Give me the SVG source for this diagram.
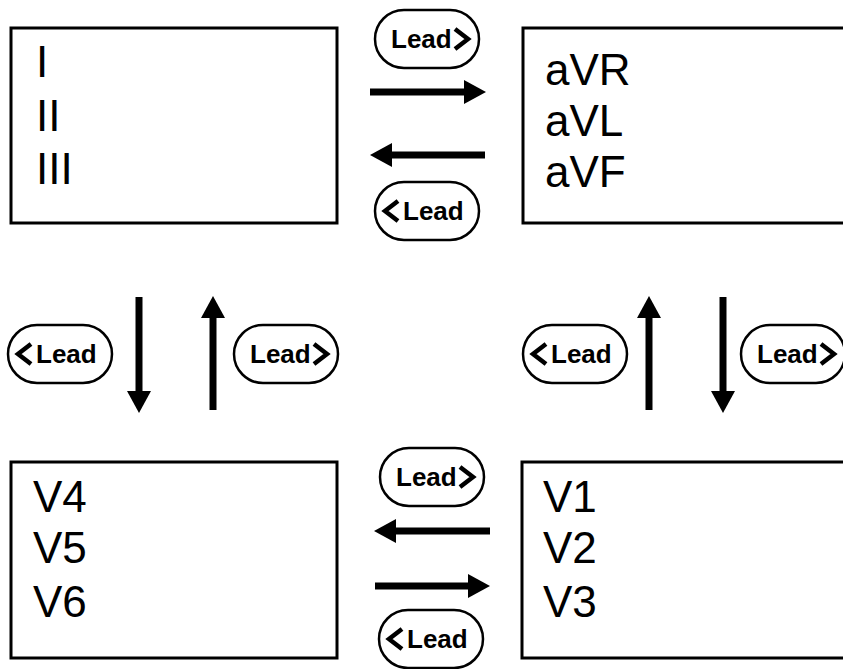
<svg xmlns="http://www.w3.org/2000/svg" width="843" height="669" viewBox="0 0 843 669">
<style>
.box{fill:#fff;stroke:#000;stroke-width:3}
.big{font-family:"Liberation Sans",Arial,sans-serif;font-size:44px;fill:#000}
.pill{fill:#fff;stroke:#000;stroke-width:2.5}
.lbl{font-family:"Liberation Sans",Arial,sans-serif;font-size:26px;font-weight:bold;fill:#000}
.chev{fill:none;stroke:#000;stroke-width:4.5;stroke-linecap:butt;stroke-linejoin:miter}
.arr{stroke:#000;stroke-width:7;fill:none}
</style>
<defs>
<marker id="ah" markerUnits="userSpaceOnUse" markerWidth="22" markerHeight="24" refX="0" refY="12" orient="auto" viewBox="0 0 22 24">
<path d="M0,0 L22,12 L0,24 Z" fill="#000"/>
</marker>
<g id="pillR">
<rect class="pill" x="-52" y="-29" width="104" height="58" rx="29" ry="29"/>
<text class="lbl" x="-36" y="9">Lead</text>
<polyline class="chev" points="28,-10 41,0 28,10"/>
</g>
<g id="pillL">
<rect class="pill" x="-52" y="-29" width="104" height="58" rx="29" ry="29"/>
<text class="lbl" x="-24" y="9">Lead</text>
<polyline class="chev" points="-29,-10 -42,0 -29,10"/>
</g>
</defs>
<g id="node-limb">
<rect class="box" x="11" y="28" width="326" height="195"/>
<text class="big" x="36" y="77">I</text>
<text class="big" x="36" y="131">II</text>
<text class="big" x="36" y="184">III</text>
</g>
<g id="node-aug">
<rect class="box" x="523" y="28" width="340" height="195"/>
<text class="big" x="545" y="85">aVR</text>
<text class="big" x="545" y="136">aVL</text>
<text class="big" x="545" y="187">aVF</text>
</g>
<g id="node-lat">
<rect class="box" x="11" y="462" width="326" height="196"/>
<text class="big" x="33" y="512">V4</text>
<text class="big" x="33" y="563">V5</text>
<text class="big" x="33" y="617">V6</text>
</g>
<g id="node-sep">
<rect class="box" x="522" y="462" width="340" height="196"/>
<text class="big" x="543" y="512">V1</text>
<text class="big" x="543" y="563">V2</text>
<text class="big" x="543" y="617">V3</text>
</g>
<g id="connectors">
<line class="arr" x1="370" y1="92" x2="464" y2="92" marker-end="url(#ah)"/>
<line class="arr" x1="485" y1="155" x2="392" y2="155" marker-end="url(#ah)"/>
<line class="arr" x1="139" y1="297" x2="139" y2="391" marker-end="url(#ah)"/>
<line class="arr" x1="213" y1="410" x2="213" y2="318" marker-end="url(#ah)"/>
<line class="arr" x1="649" y1="410" x2="649" y2="318" marker-end="url(#ah)"/>
<line class="arr" x1="723" y1="297" x2="723" y2="391" marker-end="url(#ah)"/>
<line class="arr" x1="490" y1="531" x2="396" y2="531" marker-end="url(#ah)"/>
<line class="arr" x1="375" y1="586" x2="468" y2="586" marker-end="url(#ah)"/>
</g>
<g id="labels">
<use href="#pillR" x="427" y="39"/>
<use href="#pillL" x="427" y="211"/>
<use href="#pillL" x="60" y="354"/>
<use href="#pillR" x="286" y="354"/>
<use href="#pillL" x="575" y="354"/>
<use href="#pillR" x="793" y="354"/>
<use href="#pillR" x="432" y="477"/>
<use href="#pillL" x="431" y="639"/>
</g>
</svg>
